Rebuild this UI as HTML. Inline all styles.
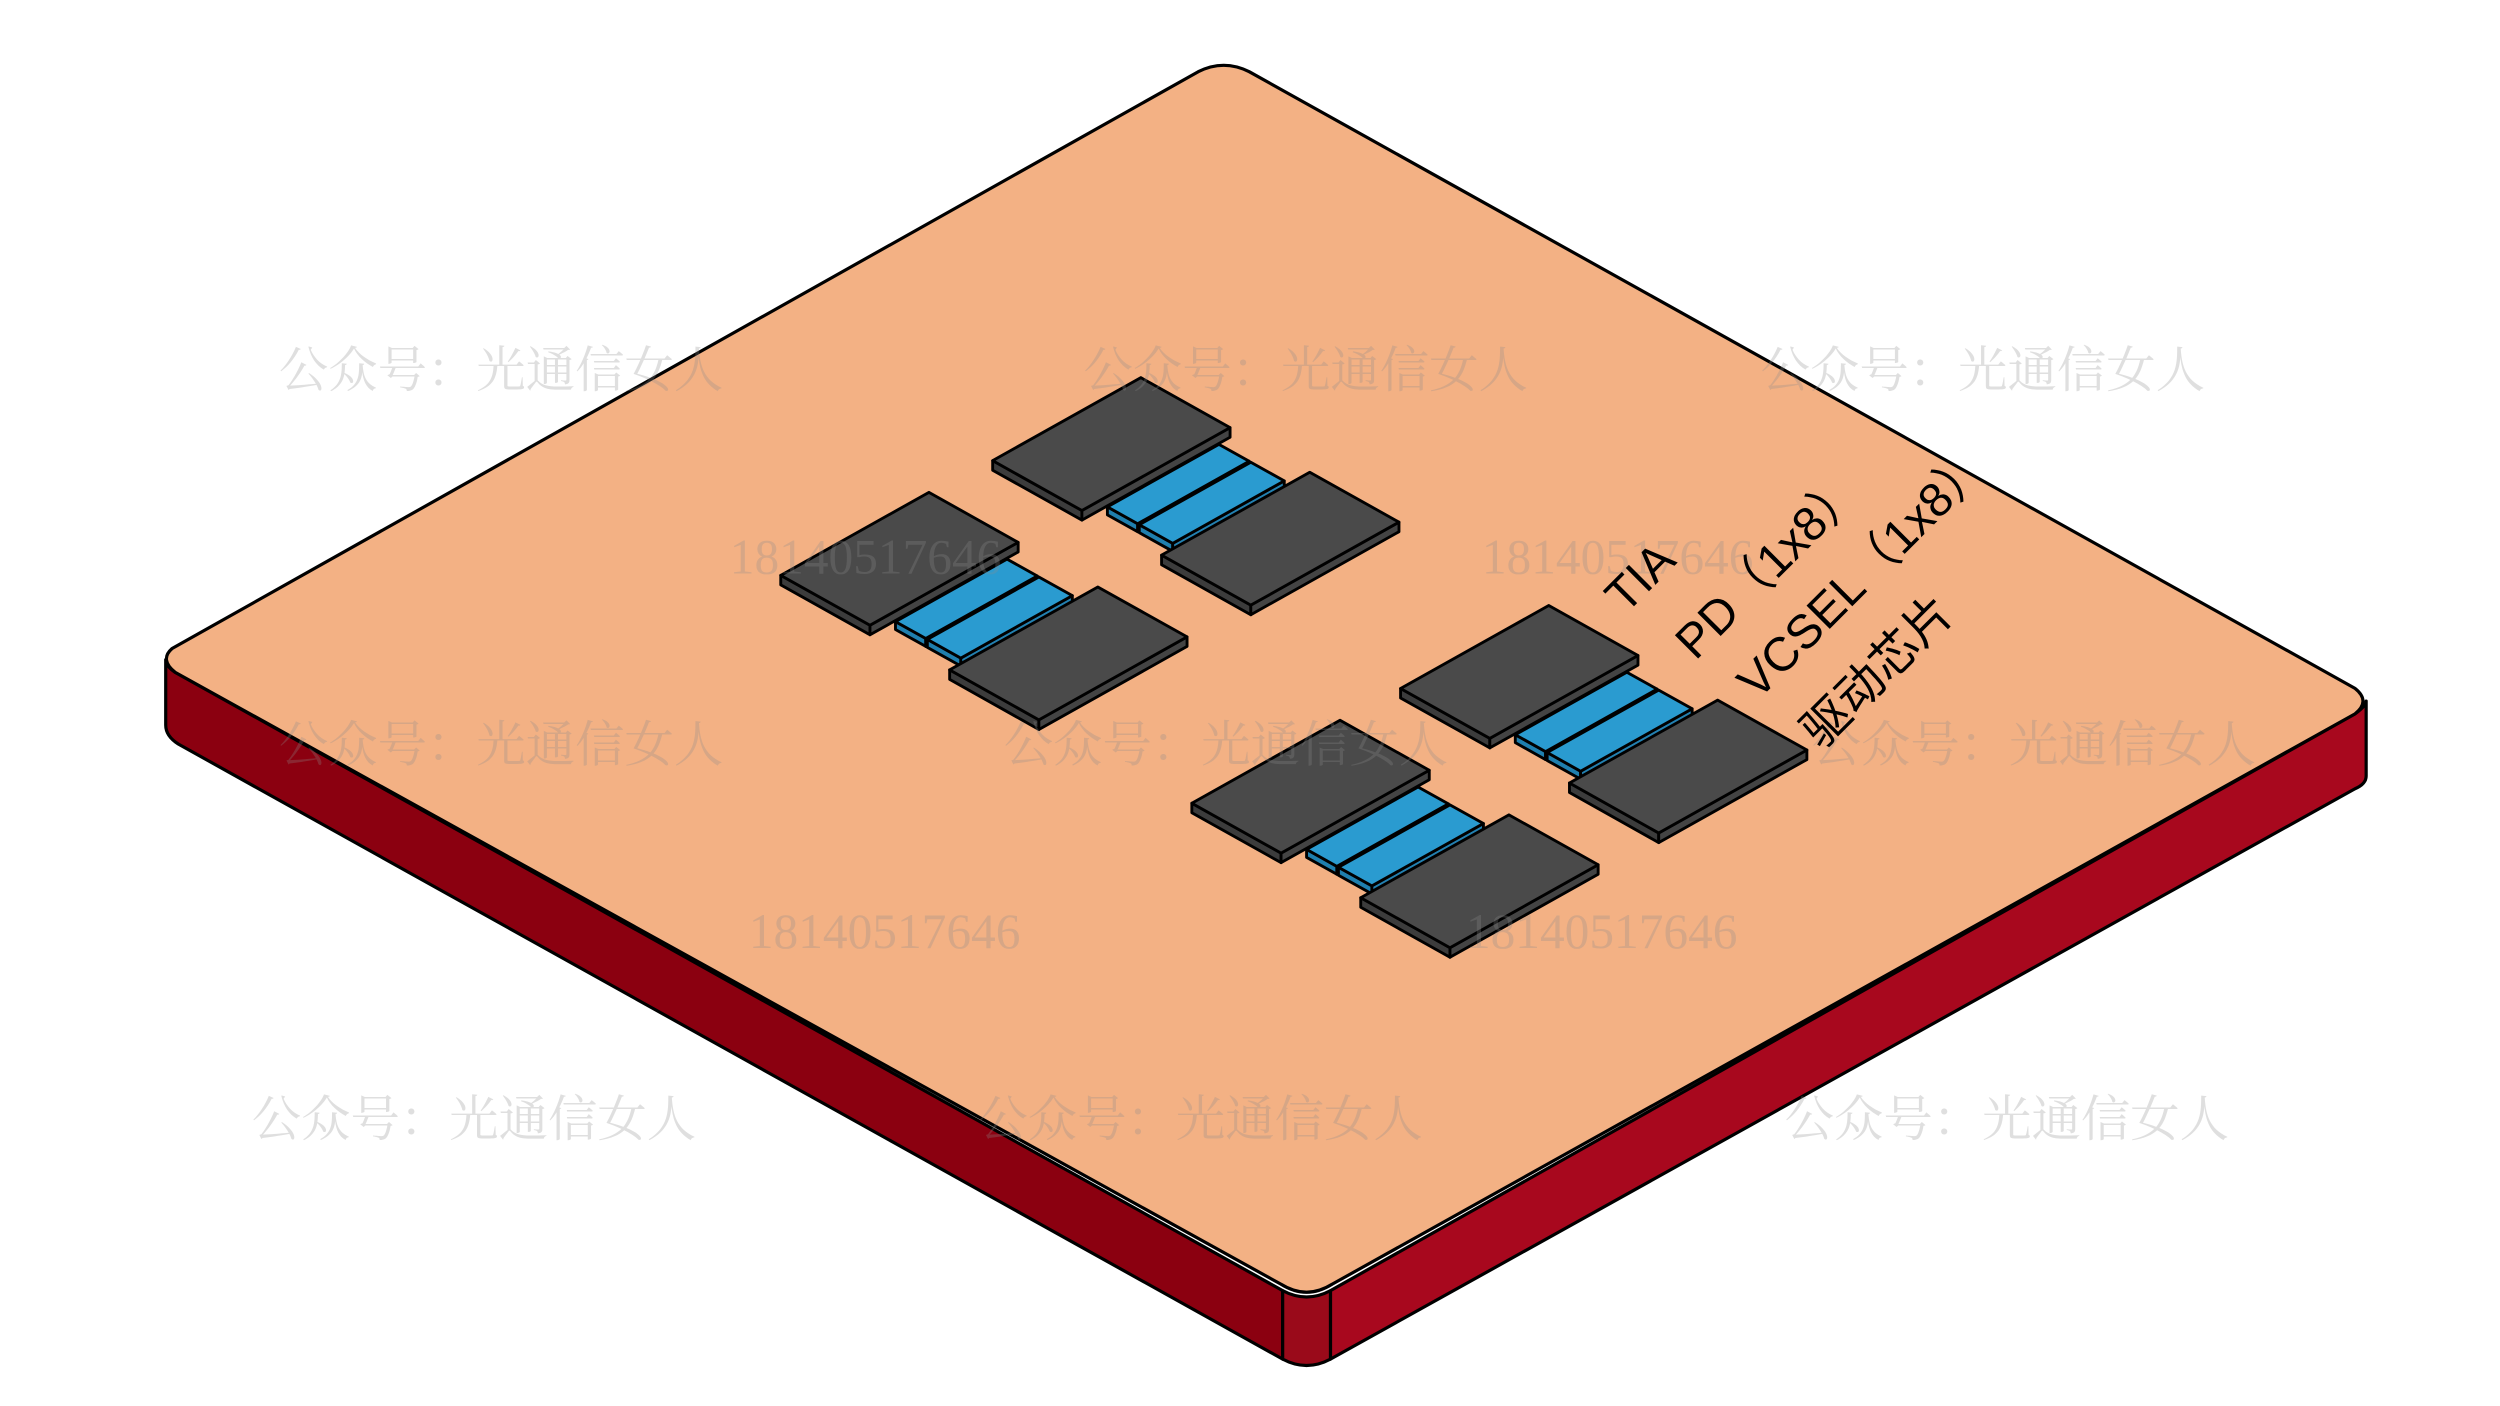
<!DOCTYPE html>
<html><head><meta charset="utf-8"><style>
html,body{margin:0;padding:0;background:#fff;width:2500px;height:1406px;overflow:hidden}
svg{display:block}
</style></head><body>
<svg id="s" width="2500" height="1406" viewBox="0 0 1569 882.4" preserveAspectRatio="none" xmlns="http://www.w3.org/2000/svg">
<g stroke="#000" stroke-width="2" stroke-linejoin="round">
<path d="M104,414 L104,455 Q104,462 112,467 L805,853 L805,810 L110,422 Q104,418 104,414 Z" fill="#8B0010"/>
<path d="M835,810 L1478,448 Q1485,443 1485,440 L1485,487 Q1485,492 1478,495 L835,853 Z" fill="#A8081E"/>
<path d="M805,810 Q820,818 835,810 L835,853 Q820,861 805,853 Z" fill="#9A0A1A"/>
<path d="M108,407 L752,45 Q768,37 784,45 L1478,432 Q1488,440 1478,448 L836,806 Q820,816 804,806 L110,422 Q100,414 108,407 Z" fill="#F3B184"/>
</g>
<g id="chips" stroke="#000" stroke-width="1.8" stroke-linejoin="round"></g>
<g font-family="'Liberation Serif','Noto Serif CJK SC',serif" font-size="31" fill="rgba(140,140,140,0.28)">
<text x="175" y="243">公众号：光通信女人</text>
<text x="680" y="243">公众号：光通信女人</text>
<text x="1105" y="243">公众号：光通信女人</text>
<text x="175" y="478">公众号：光通信女人</text>
<text x="630" y="478">公众号：光通信女人</text>
<text x="1137" y="478">公众号：光通信女人</text>
<text x="158" y="713">公众号：光通信女人</text>
<text x="614" y="713">公众号：光通信女人</text>
<text x="1120" y="713">公众号：光通信女人</text>
<text x="458" y="360">18140517646</text>
<text x="930" y="360">18140517646</text>
<text x="470" y="595">18140517646</text>
<text x="920" y="595">18140517646</text>
</g>
<g font-family="'Liberation Sans','Noto Sans CJK SC',sans-serif" font-size="30" fill="#000">
<text transform="translate(1020,386) rotate(-45)">TIA</text>
<text transform="translate(1064,415) rotate(-45)">PD（1x8）</text>
<text transform="translate(1103,440) rotate(-45)">VCSEL（1x8）</text>
<text transform="translate(1143,471) rotate(-45)">驱动芯片</text>
</g>
</svg>
<script>
(function(){
var g=document.getElementById('chips');
var u=[1,0.56],v=[-1,0.56];
function pt(P,s,t,dz){return [P[0]+s*u[0]+t*v[0],P[1]+s*u[1]+t*v[1]+(dz||0)];}
function poly(pts,fill){var p=document.createElementNS('http://www.w3.org/2000/svg','polygon');
p.setAttribute('points',pts.map(function(q){return q[0].toFixed(1)+','+q[1].toFixed(1)}).join(' '));
p.setAttribute('fill',fill);g.appendChild(p);}
function box(P,s0,s1,t0,t1,h,top,side1,side2){
 var A=pt(P,s0,t0,-h),B=pt(P,s1,t0,-h),C=pt(P,s1,t1,-h),D=pt(P,s0,t1,-h);
 var B2=pt(P,s1,t0,0),C2=pt(P,s1,t1,0),D2=pt(P,s0,t1,0);
 poly([D,C,C2,D2],side1);
 poly([C,B,B2,C2],side2);
 poly([A,B,C,D],top);
}
function group(P){
 P=[P[0],P[1]+6];
 box(P,0,56,0,93,6,'#4A4A4A','#3C3C3C','#444');
 box(P,61,80,12,82,5,'#2A9BD0','#1F7FAE','#2380B0');
 box(P,81,102,12,82,5,'#2A9BD0','#1F7FAE','#2380B0');
 box(P,106,162,0,93,6,'#4A4A4A','#3C3C3C','#444');
}
group([716,237]);group([583,309]);group([972,380]);group([841,452]);
})();
</script>
</body></html>
